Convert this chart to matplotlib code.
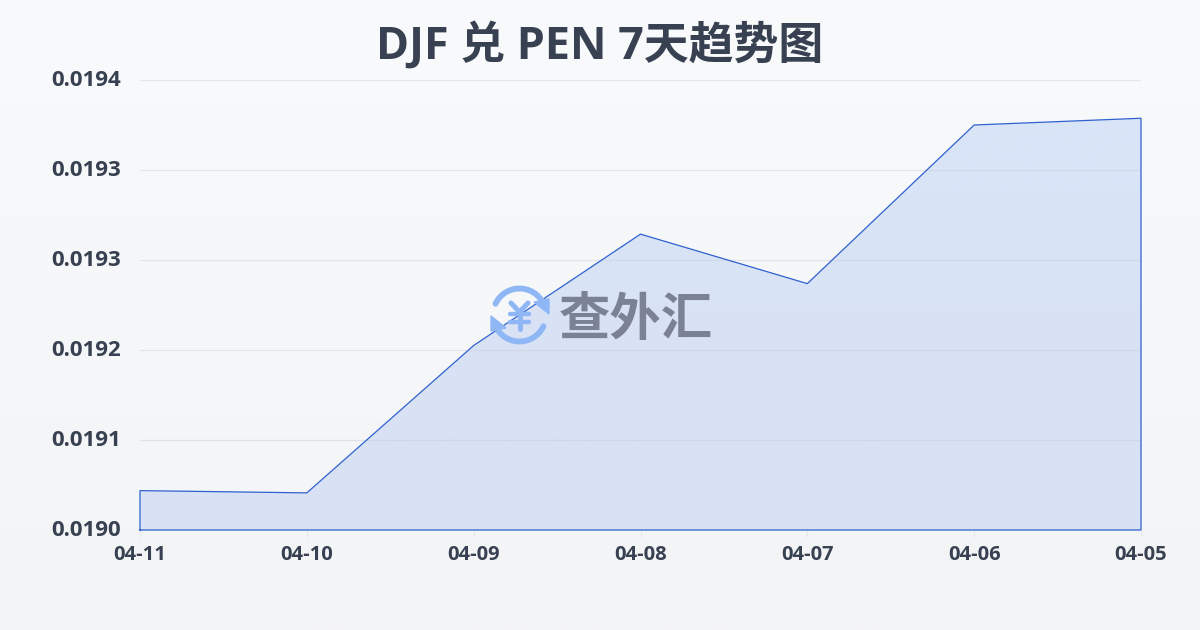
import numpy as np
import matplotlib
matplotlib.use("Agg")
import matplotlib.pyplot as plt
from matplotlib.patches import Arc, Polygon
from matplotlib.colors import LinearSegmentedColormap
from matplotlib.transforms import ScaledTranslation

plt.rcParams['font.family'] = ['Open Sans', 'Noto Sans CJK SC', 'DejaVu Sans']

dates = ['04-11', '04-10', '04-09', '04-08', '04-07', '04-06', '04-05']
rates = [0.019055, 0.019053, 0.019184, 0.019283, 0.019239, 0.019380, 0.019386]
ytick_values = [0.01902, 0.01910, 0.01918, 0.01926, 0.01934, 0.01942]
title = 'DJF 兑 PEN 7天趋势图'
watermark = '查外汇'

W, H = 1200, 630
fig = plt.figure(figsize=(W / 100, H / 100), dpi=100)

bg = fig.add_axes([0, 0, 1, 1], zorder=0)
bg.axis('off')
bg_cmap = LinearSegmentedColormap.from_list('bg', ['#f9fafb', '#f3f4f6'])
bg.imshow(np.linspace(0, 1, 256).reshape(-1, 1), aspect='auto', cmap=bg_cmap, extent=[0, 1, 0, 1])

ax = fig.add_axes([140 / W, 1 - 530 / H, 1001 / W, 450 / H], zorder=1)
ax.patch.set_alpha(0)
x = np.arange(len(dates))
ymin, ymax = ytick_values[0], ytick_values[-1]

fill = ax.fill_between(x, rates, ymin, facecolor='none', edgecolor='none')
fill_cmap = LinearSegmentedColormap.from_list('f', ['#d9e1f4', '#d9e5f8'])
im = ax.imshow(np.linspace(0, 1, 256).reshape(-1, 1), origin='lower', aspect='auto', cmap=fill_cmap,
               extent=[0, len(dates) - 1, ymin, ymax], zorder=1)
im.set_clip_path(fill.get_paths()[0], transform=ax.transData)
ax.set_xlim(0, len(dates) - 1)
ax.set_ylim(ymin, ymax)

ax.set_yticks(ytick_values)
ax.set_yticklabels([f'{v:.4f}' for v in ytick_values])
ax.set_xticks(x)
ax.set_xticklabels(dates)
ax.grid(axis='y', color='#c5cad3', alpha=0.4, lw=0.9, zorder=2)
ax.set_axisbelow(False)
ax.tick_params(axis='y', length=0, pad=13.5, labelsize=16, labelcolor='#374151')
ax.tick_params(axis='x', length=5, width=0.8, color='#e5e7eb', pad=5.5, labelsize=14.5, labelcolor='#374151')
for lab in ax.get_xticklabels():
    lab.set_fontweight('bold')
shift = ScaledTranslation(0, 2 / 100, fig.dpi_scale_trans)
for lab in ax.get_yticklabels():
    lab.set_fontweight('bold')
    lab.set_transform(lab.get_transform() + shift)
for s in ax.spines.values():
    s.set_visible(False)

xs = [0] + list(x) + [len(dates) - 1, 0]
ys = [ymin] + rates + [ymin, ymin]
ax.plot(xs, ys, color='#2f62cf', lw=0.9, zorder=3, clip_on=False, solid_joinstyle='miter')

fig.text(600 / W, 1 - 46 / H, title, ha='center', va='center', fontsize=32.3, fontweight='bold', color='#374151')

# watermark
ov = fig.add_axes([0, 0, 1, 1], zorder=3)
ov.set_xlim(0, W); ov.set_ylim(H, 0); ov.axis('off'); ov.patch.set_alpha(0)
cx, cy, d = 519.5, 315, 53
blue = '#8fb6f5'
ov.add_patch(Arc((cx, cy), d, d, theta1=205, theta2=345, color=blue, lw=4.2, capstyle='round'))
ov.add_patch(Arc((cx, cy), d, d, theta1=25, theta2=165, color=blue, lw=4.2, capstyle='round'))
ov.add_patch(Polygon([[491, 316], [491, 331], [506, 328]], color=blue))
ov.add_patch(Polygon([[549, 314], [549, 299], [534, 302]], color=blue))
ov.plot([511, 519.5, 528], [303, 312, 303], color=blue, lw=3.6, solid_capstyle='round')
ov.plot([510, 529], [314, 314], color=blue, lw=3.2, solid_capstyle='round')
ov.plot([510, 529], [322, 322], color=blue, lw=3.2, solid_capstyle='round')
ov.plot([519.5, 519.5], [312, 329], color=blue, lw=3.6, solid_capstyle='round')
ov.text(636, 320, watermark, ha='center', va='center', fontsize=37, fontweight='bold', color='#7a8294',
        family=['Noto Sans CJK SC', 'DejaVu Sans'])

fig.savefig('out.png', dpi=100)
